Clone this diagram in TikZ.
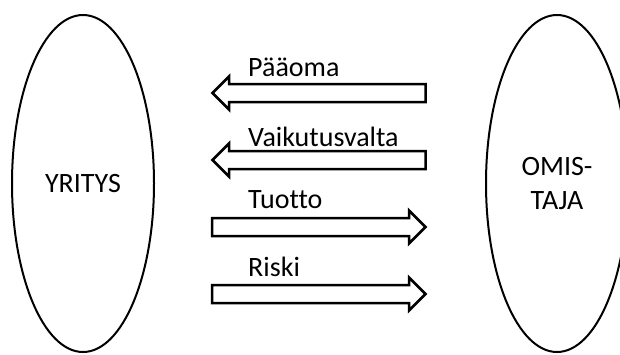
\documentclass[tikz,border=0pt]{standalone}
\usepackage{fontspec}
\setmainfont{Carlito}[Ligatures=NoCommon]
\usetikzlibrary{shapes.geometric}

\tikzset{
    party/.style={draw, ellipse, line width=2pt, minimum width=142pt, minimum height=337pt, inner sep=0pt, align=center, font=\fontsize{28}{34}\selectfont},
    blockarrow/.style={draw, line width=2.5pt, line join=miter},
    flowlabel/.style={anchor=base west, inner sep=0pt, font=\fontsize{28}{34}\selectfont}
}

\begin{document}
\begin{tikzpicture}[x=1pt, y=-1pt]
    \clip (0,0) rectangle (620,354);
    \fill[white] (0,0) rectangle (620,354);

    \node[party] (yritys) at (83, 183.5) {YRITYS};
    \node[party] (omistaja) at (557, 183.5) {OMIS-\\TAJA};

    % to the company
    \draw[blockarrow] (425.5,84) -- (229,84) -- (229,76.5) -- (212.5,93) -- (229,109.5) -- (229,102) -- (425.5,102) -- cycle;
    \draw[blockarrow] (425.5,151) -- (229,151) -- (229,143.5) -- (212.5,160) -- (229,176.5) -- (229,169) -- (425.5,169) -- cycle;

    % to the owner
    \draw[blockarrow] (212,218) -- (409,218) -- (409,210.5) -- (425.5,227) -- (409,243.5) -- (409,236) -- (212,236) -- cycle;
    \draw[blockarrow] (212,285) -- (409,285) -- (409,277.5) -- (425.5,294) -- (409,310.5) -- (409,303) -- (212,303) -- cycle;

    \node[flowlabel] (paaoma) at (248, 76) {Pääoma};
    \node[flowlabel] (valta) at (248, 146.7) {Vaikutusvalta};
    \node[flowlabel] (tuotto) at (248, 208.3) {Tuotto};
    \node[flowlabel] (riski) at (248, 276.7) {Riski};
\end{tikzpicture}
\end{document}
